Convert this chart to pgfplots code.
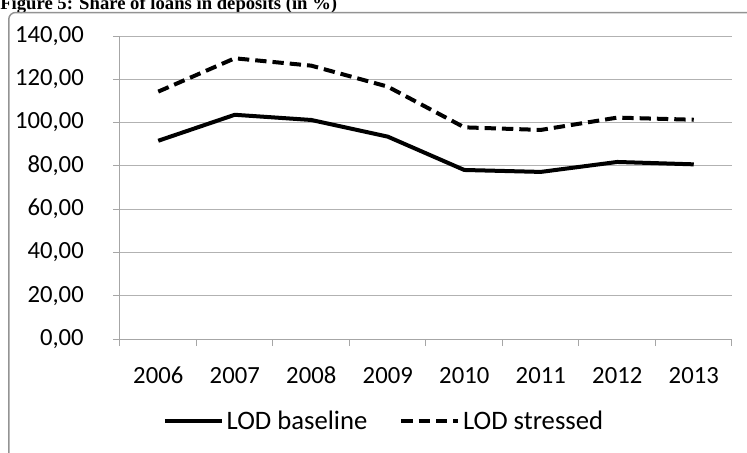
\documentclass[border=0pt]{standalone}
\usepackage{fontspec}
\setmainfont{Carlito}
\newfontfamily\titlefont{Liberation Serif}
\usepackage{pgfplots}
\pgfplotsset{compat=1.18}
\begin{document}
\begin{tikzpicture}
\path[use as bounding box] (0pt,0pt) rectangle (560.25pt,-339.75pt);
\clip (0pt,0pt) rectangle (560.25pt,-339.75pt);
\node[anchor=base west, inner sep=0pt, font=\titlefont\bfseries\fontsize{14pt}{16pt}\selectfont] at (0pt,-7.5pt) {Figure 5: Share of loans in deposits (in \%)};
\draw[gray!85, line width=1.1pt, rounded corners=5pt] (6.6pt,-9.4pt) rectangle (620pt,-400pt);
\begin{axis}[
  at={(90pt,-254.25pt)}, anchor=south west,
  scale only axis, width=459pt, height=227.25pt,
  xmin=-0.5, xmax=7.5, ymin=0, ymax=140,
  axis x line=bottom, axis y line=left,
  axis line style={-, gray!70, line width=0.75pt},
  ytick={0,20,...,140},
  ymajorgrids, grid style={gray!60, line width=0.75pt},
  xtick={0,...,7}, xticklabels={2006,2007,2008,2009,2010,2011,2012,2013},
  major x tick style={draw=none},
  minor xtick={-0.5,0.5,...,7.5},
  tick align=outside, major tick length=5.25pt, minor tick length=5.25pt,
  tick style={gray!70, line width=0.75pt},
  ticklabel style={font=\fontsize{18.5pt}{20pt}\selectfont},
  yticklabel style={anchor=east, inner sep=0pt, xshift=-21.75pt,
    /pgf/number format/.cd, fixed, fixed zerofill, precision=2, use comma, assume math mode=true},
  xticklabel style={anchor=base, inner sep=0pt, yshift=-28pt},
  legend columns=2,
  legend style={draw=none, fill=none, at={(0.432,-0.271)}, anchor=center,
    font=\fontsize{20pt}{24pt}\selectfont,
    /tikz/every even column/.append style={column sep=22pt}},
  legend image code/.code={\draw[#1] (0pt,0pt) -- (42.75pt,0pt);},
]
\addplot[black, line width=3pt, line join=round] coordinates {(0,91.6)(1,103.6)(2,101.2)(3,93.5)(4,78.1)(5,77.2)(6,81.8)(7,80.7)};
\addlegendentry{LOD baseline}
\addplot[black, line width=3pt, dash pattern=on 8.5pt off 4.5pt] coordinates {(0,114.3)(1,129.7)(2,126.3)(3,116.6)(4,97.8)(5,96.6)(6,102.3)(7,101.3)};
\addlegendentry{LOD stressed}
\end{axis}
\end{tikzpicture}
\end{document}
